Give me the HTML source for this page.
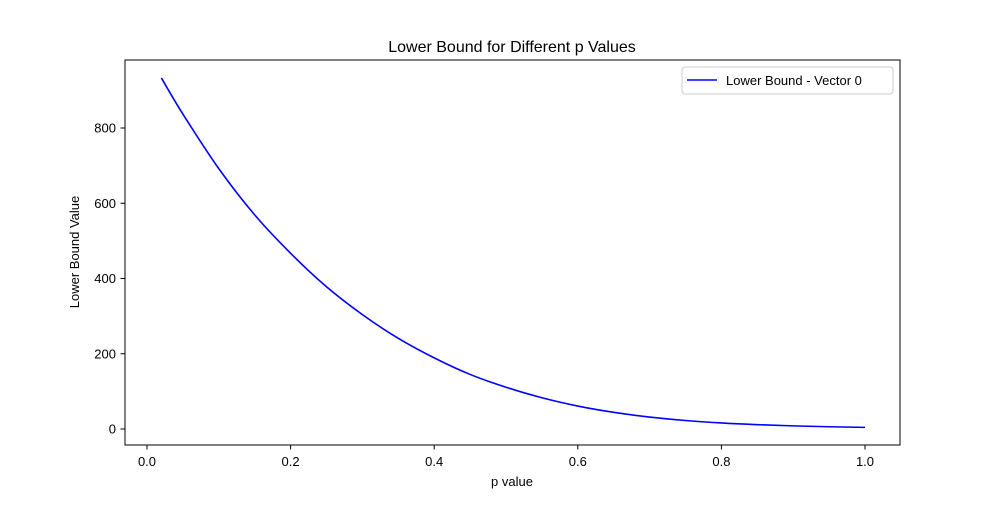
<!DOCTYPE html>
<html><head><meta charset="utf-8"><style>
html,body{margin:0;padding:0;background:#fff;}
svg text{font-family:"Liberation Sans","DejaVu Sans",sans-serif;fill:#000;}
</style></head><body>
<svg id="chart" width="1000" height="500" xmlns="http://www.w3.org/2000/svg">
<rect width="1000" height="500" fill="#fff"/>
<text x="512" y="52" font-size="16" text-anchor="middle">Lower Bound for Different p Values</text>
<g id="xticks"></g><g id="yticks"></g>
<path id="line" fill="none" stroke="#0000ff" stroke-width="1.6"/>
<rect x="125" y="60" width="775" height="385" fill="none" stroke="#000" stroke-width="1"/>
<text x="512" y="486" font-size="13" text-anchor="middle">p value</text>
<text transform="translate(79,252) rotate(-90)" font-size="13" text-anchor="middle">Lower Bound Value</text>
<g>
<rect x="682" y="67" width="211" height="27" rx="3" fill="#fff" stroke="#ccc"/>
<line x1="687" y1="80" x2="717" y2="80" stroke="#0000ff" stroke-width="1.6"/>
<text x="726" y="85" font-size="13">Lower Bound - Vector 0</text>
</g>
</svg>
<script>
const pValues=[0.02,0.05,0.1,0.15,0.2,0.25,0.3,0.35,0.4,0.45,0.5,0.55,0.6,0.65,0.7,0.75,0.8,0.85,0.9,0.95,1.0];
const boundValues=[933,837,692,569,467,378,304,241,189,145,111,83,61,44.3,31.8,22.6,16.1,11.5,8.3,6.0,4.3];
const xTicks=[0,0.2,0.4,0.6,0.8,1.0];
const xTickLabels=["0.0","0.2","0.4","0.6","0.8","1.0"];
const yTicks=[0,200,400,600,800];
const xs=v=>147+(v-0)*(865-147);
const ys=v=>429-v*(301/800);
const NS="http://www.w3.org/2000/svg";
const xg=document.getElementById('xticks'),yg=document.getElementById('yticks');
xTicks.forEach((t,i)=>{
 const l=document.createElementNS(NS,'line');
 l.setAttribute('x1',xs(t));l.setAttribute('x2',xs(t));l.setAttribute('y1',445);l.setAttribute('y2',449.5);l.setAttribute('stroke','#000');
 
 
 xg.appendChild(l);
 const tx=document.createElementNS(NS,'text');
 tx.setAttribute('x',xs(t));tx.setAttribute('y',466);tx.setAttribute('font-size','13');tx.setAttribute('text-anchor','middle');tx.textContent=xTickLabels[i];
 
 
 xg.appendChild(tx);
});
yTicks.forEach(t=>{
 const l=document.createElementNS(NS,'line');
 l.setAttribute('x1',120.5);l.setAttribute('x2',125);l.setAttribute('y1',ys(t));l.setAttribute('y2',ys(t));l.setAttribute('stroke','#000');
 
 
 yg.appendChild(l);
 const tx=document.createElementNS(NS,'text');
 tx.setAttribute('x',116);tx.setAttribute('y',ys(t)+4.5);tx.setAttribute('font-size','13');tx.setAttribute('text-anchor','end');tx.textContent=String(t);
 
 
 yg.appendChild(tx);
});
const pts=pValues.map((p,i)=>[xs(p),ys(boundValues[i])]);
let d=`M${pts[0][0]},${pts[0][1]}`;
for(let i=0;i<pts.length-1;i++){
 const p0=pts[i-1]||pts[i],p1=pts[i],p2=pts[i+1],p3=pts[i+2]||p2;
 const c1=[p1[0]+(p2[0]-p0[0])/6,p1[1]+(p2[1]-p0[1])/6];
 const c2=[p2[0]-(p3[0]-p1[0])/6,p2[1]-(p3[1]-p1[1])/6];
 d+=` C${c1[0]},${c1[1]} ${c2[0]},${c2[1]} ${p2[0]},${p2[1]}`;
}
document.getElementById('line').setAttribute('d',d);
</script>
</body></html>
